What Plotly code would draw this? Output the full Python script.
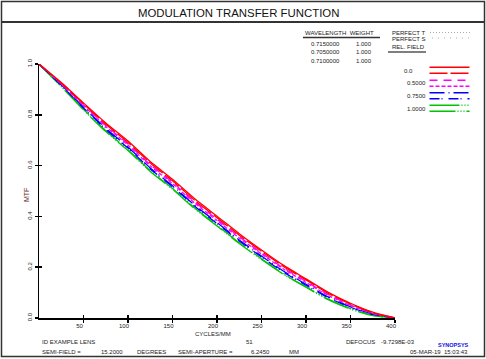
import plotly.graph_objects as go

# ---------------- data ----------------
freq = [0, 25, 50, 75, 100, 125, 150, 175, 200, 225, 250, 275, 300, 325, 350, 375, 400]

f00_t = [1.000, 0.927, 0.847, 0.768, 0.697, 0.616, 0.546, 0.469, 0.401, 0.332, 0.268, 0.207, 0.154, 0.101, 0.058, 0.023, 0.000]
f00_s = [1.000, 0.925, 0.843, 0.763, 0.691, 0.610, 0.540, 0.463, 0.395, 0.326, 0.263, 0.202, 0.150, 0.097, 0.055, 0.021, 0.000]
f05_t = [1.000, 0.923, 0.839, 0.758, 0.685, 0.604, 0.534, 0.457, 0.389, 0.320, 0.256, 0.196, 0.144, 0.092, 0.051, 0.019, 0.000]
f05_s = [1.000, 0.921, 0.836, 0.754, 0.681, 0.599, 0.529, 0.452, 0.384, 0.315, 0.252, 0.192, 0.140, 0.089, 0.049, 0.018, 0.000]
f075_t = [1.000, 0.918, 0.830, 0.747, 0.673, 0.591, 0.521, 0.444, 0.376, 0.307, 0.244, 0.184, 0.133, 0.083, 0.044, 0.015, 0.000]
f075_s = [1.000, 0.916, 0.827, 0.743, 0.669, 0.587, 0.517, 0.440, 0.372, 0.303, 0.240, 0.180, 0.129, 0.080, 0.042, 0.014, 0.000]
f10_t = [1.000, 0.913, 0.822, 0.737, 0.662, 0.580, 0.510, 0.433, 0.365, 0.296, 0.233, 0.173, 0.123, 0.074, 0.037, 0.011, 0.000]
f10_s = [1.000, 0.911, 0.819, 0.734, 0.659, 0.577, 0.507, 0.430, 0.362, 0.293, 0.230, 0.171, 0.121, 0.072, 0.035, 0.009, 0.000]

x_ticks = [50, 100, 150, 200, 250, 300, 350, 400]
y_ticks = [0.0, 0.2, 0.4, 0.6, 0.8, 1.0]

wavelengths = ["0.7150000", "0.7050000", "0.7100000"]
weights = ["1.000", "1.000", "1.000"]
field_labels = ["0.0", "0.5000", "0.7500", "1.0000"]

# ---------------- styling ----------------
W, H = 486, 359
L, R, T, B = 39, 395, 64, 318
FONT = "Liberation Sans, Arial, sans-serif"

def px(xp):
    return (xp - L) / (R - L)

def py(yp):
    return (B - yp) / (B - T)

RED, MAG, BLUE, GREEN = "#ff0000", "#ff00ff", "#0000ff", "#00c400"
styles = [
    (f10_s, GREEN, "26px,2px,1px,2px,1px,2px,1px,2px"),
    (f10_t, GREEN, "30px,2px,1px,2px,1px,2px,1px,2px"),
    (f075_s, BLUE, "10px,2px,1px,6px"),
    (f075_t, BLUE, "15px,4px,1px,4px"),
    (f05_s, MAG, "4px,2px"),
    (f05_t, MAG, "8px,6px"),
    (f00_s, RED, "18px,3px"),
    (f00_t, RED, "solid"),
]

fig = go.Figure()
for ys, col, dash in styles:
    fig.add_trace(go.Scatter(x=freq, y=ys, mode="lines",
                             line=dict(color=col, width=1.3, dash=dash, shape="spline", smoothing=0.6),
                             showlegend=False, hoverinfo="skip"))
# dummy trace for overlay axes (inside halves of crossing ticks)
fig.add_trace(go.Scatter(x=[None], y=[None], xaxis="x2", yaxis="y2", showlegend=False, hoverinfo="skip"))

axis_common = dict(showgrid=False, zeroline=False, showline=True, linecolor="black", linewidth=1.5,
                   tickcolor="black", tickwidth=1.5, tickfont=dict(family=FONT, size=6, color="#222"))

fig.update_layout(
    width=W, height=H,
    margin=dict(l=L, r=W - R, t=T, b=H - B),
    paper_bgcolor="white", plot_bgcolor="white",
    hovermode=False,
    xaxis=dict(range=[0, 400], tickvals=x_ticks, ticks="outside", ticklen=3,
               ticklabelshift=-4, ticklabelstandoff=-2, **axis_common),
    yaxis=dict(range=[0, 1], tickvals=y_ticks, tickformat=".1f", ticks="outside", ticklen=3,
               tickangle=-90, **axis_common),
    xaxis2=dict(range=[0, 400], tickvals=x_ticks, ticks="inside", ticklen=3, showticklabels=False,
                overlaying="x", anchor="y2", side="bottom", showgrid=False, zeroline=False,
                showline=False, tickcolor="black", tickwidth=1.5),
    yaxis2=dict(range=[0, 1], tickvals=y_ticks, ticks="inside", ticklen=3, showticklabels=False,
                overlaying="y", anchor="x2", side="left", showgrid=False, zeroline=False,
                showline=False, tickcolor="black", tickwidth=1.5),
)

shapes = []
# outer border and title separator
shapes.append(dict(type="rect", xref="paper", yref="paper", x0=px(1.5), x1=px(484.5), y0=py(356.5), y1=py(1.5),
                   line=dict(color="#333", width=1.5)))
shapes.append(dict(type="line", xref="paper", yref="paper", x0=px(1.5), x1=px(484.5), y0=py(22), y1=py(22),
                   line=dict(color="#333", width=2)))
# legend underlines
shapes.append(dict(type="line", xref="paper", yref="paper", x0=px(303), x1=px(380), y0=py(37.5), y1=py(37.5),
                   line=dict(color="#333", width=1.3)))
shapes.append(dict(type="line", xref="paper", yref="paper", x0=px(388), x1=px(426), y0=py(52), y1=py(52),
                   line=dict(color="#555", width=1.5)))
# perfect T / S samples
shapes.append(dict(type="line", xref="paper", yref="paper", x0=px(430), x1=px(470), y0=py(32.5), y1=py(32.5),
                   line=dict(color="#aaa", width=1, dash="1px,2px")))
shapes.append(dict(type="line", xref="paper", yref="paper", x0=px(432), x1=px(470), y0=py(38), y1=py(38),
                   line=dict(color="#aaa", width=1, dash="1px,5px")))
# field legend samples
legend_rows = [
    (67.3, RED, "solid"), (73.3, RED, "18px,3px"),
    (80.3, MAG, "8px,6px"), (86.3, MAG, "4px,2px"),
    (92.7, BLUE, "15px,4px,1px,4px"), (98.7, BLUE, "10px,2px,1px,6px"),
    (105.3, GREEN, "30px,2px,1px,2px,1px,2px,1px,2px"), (111.3, GREEN, "26px,2px,1px,2px,1px,2px,1px,2px"),
]
for yy, col, dash in legend_rows:
    shapes.append(dict(type="line", xref="paper", yref="paper", x0=px(429.5), x1=px(469.5), y0=py(yy), y1=py(yy),
                       line=dict(color=col, width=1.5, dash=dash)))
fig.update_layout(shapes=shapes)

ann = []

def text(t, xp, yp, size=6, anchor="left", color="#222", angle=0, bold=False):
    if bold:
        t = "<b>" + t + "</b>"
    ann.append(dict(text=t, x=px(xp), y=py(yp), xref="paper", yref="paper", showarrow=False,
                    xanchor=anchor, yanchor="middle", textangle=angle,
                    font=dict(family=FONT, size=size, color=color)))

text("MODULATION TRANSFER FUNCTION", 238, 13, size=11.4, anchor="center", color="#111")
text("WAVELENGTH  WEIGHT", 303, 33, size=6)
for i, (wl, wt) in enumerate(zip(wavelengths, weights)):
    yy = [44.3, 52.3, 60.5][i]
    text(wl, 309, yy, size=6)
    text(wt, 374, yy, size=6, anchor="right")
text("PERFECT T", 390, 32.7, size=6)
text("PERFECT S", 390, 39.3, size=6)
text("REL. FIELD", 390, 47, size=6)
for lab, yy, xx in zip(field_labels, [70.7, 83.3, 96.0, 108.7], [402, 405, 405, 405]):
    text(lab, xx, yy, size=6)

text("MTF", 26, 195, size=7, anchor="center", color="#6b2b2b", angle=-90)
text("CYCLES/MM", 213, 334, size=6, anchor="center")
text("ID EXAMPLE LENS", 40, 341.7, size=6)
text("51", 249, 341.7, size=6, anchor="center")
text("DEFOCUS", 344, 341.7, size=6)
text("-9.7298E-03", 378.7, 341.7, size=6)
text("SYNOPSYS", 453.5, 345, size=5.5, anchor="center", color="#1010e0", bold=True)
text("SEMI-FIELD =", 40, 352.3, size=6)
text("15.2000", 99, 352.3, size=6)
text("DEGREES", 135, 352.3, size=6)
text("SEMI-APERTURE =", 175.7, 352.3, size=6)
text("6.2450", 249.3, 352.3, size=6)
text("MM", 287, 352.3, size=6)
text("05-MAR-19  15:03:43", 408.3, 352.3, size=6)

fig.update_layout(annotations=ann)
fig.write_html("out.html", config={"displayModeBar": False, "staticPlot": True},
               post_script="document.body.style.margin='0';document.body.style.padding='0';document.body.style.overflow='hidden';")
